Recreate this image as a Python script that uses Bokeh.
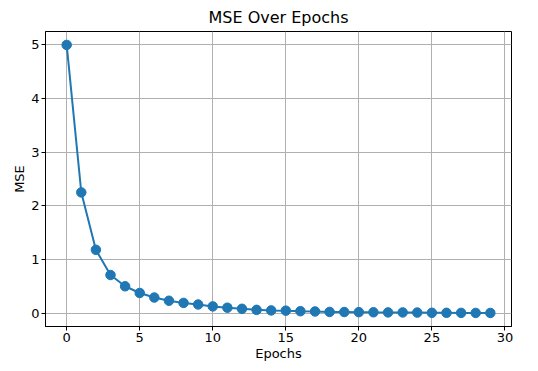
from bokeh.plotting import figure
from bokeh.models import Range1d, FixedTicker
from bokeh.embed import file_html
from bokeh.resources import INLINE

epochs = list(range(30))
mse = [5.0, 2.25, 1.18, 0.71, 0.50, 0.375, 0.29, 0.23, 0.19, 0.16,
       0.125, 0.10, 0.08, 0.06, 0.05, 0.045, 0.035, 0.03, 0.022, 0.02,
       0.018, 0.015, 0.013, 0.012, 0.01, 0.005, 0.005, 0.004, 0.003, 0.002]
x_ticks = [0, 5, 10, 15, 20, 25, 30]
y_ticks = [0, 1, 2, 3, 4, 5]

p = figure(width=522, height=363, output_backend="svg", toolbar_location=None,
           x_range=Range1d(-1.45, 30.45), y_range=Range1d(-0.25, 5.25),
           title="MSE Over Epochs", min_border_left=45, min_border_right=11,
           min_border_top=4, min_border_bottom=8)

color = "#1f77b4"
p.line(epochs, mse, line_color=color, line_width=2)
p.scatter(epochs, mse, size=9.5, fill_color=color, line_color=color)

p.title.align = "center"
p.title.text_font = "DejaVu Sans"
p.title.text_font_size = "16px"
p.title.text_font_style = "normal"
p.title.text_color = "black"
p.title.offset = 0
p.title.standoff = 10

p.xaxis.axis_label = "Epochs"
p.yaxis.axis_label = "MSE"
p.xaxis.ticker = FixedTicker(ticks=x_ticks)
p.yaxis.ticker = FixedTicker(ticks=y_ticks)
for ax in (p.xaxis[0], p.yaxis[0]):
    ax.axis_label_text_font = "DejaVu Sans"
    ax.axis_label_text_font_size = "13px"
    ax.axis_label_text_font_style = "normal"
    ax.axis_label_text_color = "black"
    ax.major_label_text_font = "DejaVu Sans"
    ax.major_label_text_font_size = "13px"
    ax.major_label_text_color = "black"
    ax.axis_line_color = "black"
    ax.major_tick_line_color = "black"
    ax.major_tick_out = 4
    ax.major_tick_in = 0
    ax.minor_tick_line_color = None
    ax.major_label_standoff = 2
    ax.axis_label_standoff = 1

p.grid.grid_line_color = "#b0b0b0"
p.grid.grid_line_width = 1
p.outline_line_color = "black"
p.outline_line_width = 1
p.outline_line_alpha = 1
p.background_fill_color = "white"
p.border_fill_color = "white"

open("out.html", "w").write(file_html(p, INLINE))
